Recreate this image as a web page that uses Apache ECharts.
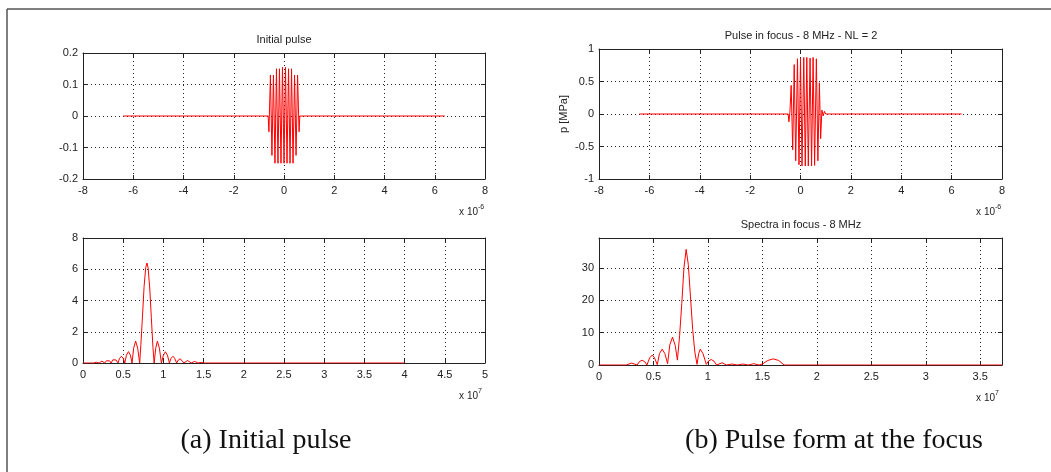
<!DOCTYPE html>
<html>
<head>
<meta charset="utf-8">
<script src="https://cdn.jsdelivr.net/npm/echarts/dist/echarts.min.js"></script>
<style>
  html, body { margin: 0; padding: 0; background: #ffffff; }
  #chart { width: 1051px; height: 472px; }
</style>
</head>
<body>
<div id="chart"></div>
<script>
// ---- Initial pulse (time in microseconds, pressure) ----
const initTime  = [-6.4, -0.63, -0.60, -0.54, -0.48, -0.42, -0.36, -0.30, -0.24, -0.18, -0.12, -0.06, 0.00,
                   0.06, 0.12, 0.18, 0.24, 0.30, 0.36, 0.42, 0.48, 0.54, 0.60, 0.63, 6.4];
const initPress = [0, 0, -0.05, 0.13, -0.125, 0.13, -0.15, 0.15, -0.15, 0.15, -0.15, 0.155, -0.15,
                   0.155, -0.15, 0.15, -0.15, 0.15, -0.15, 0.13, -0.125, 0.13, -0.05, 0, 0];

// ---- Pulse at the focus (time in microseconds, p in MPa) ----
const focusTime  = [-6.4, -0.49, -0.46, -0.42, -0.37, -0.31, -0.25, -0.19, -0.12, -0.06, 0.00, 0.06, 0.13,
                    0.19, 0.25, 0.31, 0.38, 0.44, 0.50, 0.56, 0.63, 0.69, 0.75, 0.80, 0.85, 0.90, 0.95, 1.00, 6.4];
const focusPress = [0, 0, -0.12, 0.03, 0.44, -0.55, 0.76, -0.72, 0.85, -0.78, 0.86, -0.80, 0.87,
                    -0.80, 0.87, -0.80, 0.86, -0.80, 0.87, -0.79, 0.85, -0.72, 0.48, -0.38, 0.06, -0.03, 0.04, 0, 0];

// ---- Spectrum of the initial pulse (frequency in units of 1e7 Hz) ----
const initFreq = [0, 0.13, 0.165, 0.20, 0.235, 0.27, 0.29, 0.31, 0.33, 0.35, 0.37, 0.39, 0.41, 0.435,
                  0.455, 0.478, 0.50, 0.52, 0.54, 0.565, 0.59, 0.61, 0.63, 0.655, 0.68, 0.705,
                  0.72, 0.74, 0.76, 0.78, 0.795, 0.81, 0.83, 0.85, 0.87, 0.885,
                  0.905, 0.925, 0.95, 0.975, 1.0, 1.025, 1.05, 1.075, 1.095, 1.12, 1.14, 1.165,
                  1.185, 1.21, 1.23, 1.255, 1.30, 1.345, 1.39, 1.43, 1.47, 1.51, 4.0];
const initAmp  = [0, 0, 0.05, 0, 0.12, 0, 0.14, 0.2, 0.14, 0, 0.2, 0.28, 0.2, 0,
                  0.3, 0.43, 0.3, 0, 0.5, 0.73, 0.5, 0, 0.95, 1.4, 0.95, 0,
                  1.2, 3.0, 4.9, 6.1, 6.4, 6.1, 4.8, 2.9, 1.0, 0,
                  0.95, 1.4, 0.95, 0, 0.5, 0.72, 0.5, 0, 0.3, 0.43, 0.3, 0,
                  0.19, 0.27, 0.19, 0, 0.16, 0, 0.1, 0, 0.04, 0, 0];

// ---- Spectrum at the focus (frequency in units of 1e7 Hz) ----
const focusFreq = [0, 0.25, 0.30, 0.35, 0.37, 0.395, 0.42, 0.44, 0.465, 0.49, 0.51, 0.535,
                   0.555, 0.58, 0.605, 0.63, 0.65, 0.675, 0.70, 0.72,
                   0.74, 0.76, 0.78, 0.80, 0.82, 0.84, 0.86, 0.88, 0.90,
                   0.915, 0.93, 0.955, 0.985, 1.005, 1.03, 1.055, 1.08, 1.13, 1.17,
                   1.22, 1.27, 1.32, 1.37, 1.42, 1.47, 1.50, 1.55, 1.60, 1.65, 1.70, 3.7];
const focusAmp  = [0, 0, 0.6, 0, 1.0, 1.5, 1.0, 0, 2.2, 3.1, 2.2, 0.1,
                   3.5, 4.9, 3.5, 0.4, 6.2, 8.6, 6.0, 1.5,
                   9, 19, 30, 35.7, 31, 21, 11, 4, 0.2,
                   3.5, 4.9, 3.5, 0.2, 1.2, 1.7, 1.2, 0, 0.7, 0,
                   0.3, 0, 0.3, 0, 0.4, 0, 0.3, 1.4, 1.9, 1.4, 0, 0];

const pairs = (xs, ys) => xs.map((x, i) => [x, ys[i]]);

const INK = '#222222';
const LABEL_FONT = 'Liberation Sans, Arial, sans-serif';

const grids = [
  { left: 83,  top: 53,  width: 402, height: 126 },
  { left: 83,  top: 238, width: 402, height: 125 },
  { left: 599, top: 49,  width: 403, height: 130 },
  { left: 599, top: 238, width: 403, height: 127 }
];

const axisRanges = [
  { x: [-8, 8, 2],    y: [-0.2, 0.2, 0.1] },
  { x: [0, 5, 0.5],   y: [0, 8, 2] },
  { x: [-8, 8, 2],    y: [-1, 1, 0.5] },
  { x: [0, 3.7, 0.5], y: [0, 39.2, 10] }
];

const xAxes = [];
const yAxes = [];
axisRanges.forEach((r, g) => {
  const line = { show: true, onZero: false, lineStyle: { color: INK, width: 1 } };
  const tick = { show: true, inside: true, length: 4, lineStyle: { color: INK, width: 1 } };
  const grid = { show: true, lineStyle: { color: INK, width: 1, type: [1, 3] } };
  const label = { show: true, color: INK, fontSize: 11, fontFamily: LABEL_FONT, margin: 6,
                  showMaxLabel: g !== 3, showMinLabel: true };
  xAxes.push({ type: 'value', gridIndex: g, position: 'bottom', min: r.x[0], max: r.x[1], interval: r.x[2],
               axisLine: line, axisTick: tick, axisLabel: label, splitLine: grid });
  xAxes.push({ type: 'value', gridIndex: g, position: 'top', min: r.x[0], max: r.x[1], interval: r.x[2],
               axisLine: line, axisTick: tick, axisLabel: { show: false }, splitLine: { show: false } });
  yAxes.push({ type: 'value', gridIndex: g, position: 'left', min: r.y[0], max: r.y[1], interval: r.y[2],
               axisLine: line, axisTick: tick, axisLabel: Object.assign({}, label, { margin: 5 }), splitLine: grid });
  yAxes.push({ type: 'value', gridIndex: g, position: 'right', min: r.y[0], max: r.y[1], interval: r.y[2],
               axisLine: line, axisTick: tick, axisLabel: { show: false }, splitLine: { show: false } });
});

const curves = [
  pairs(initTime, initPress),
  pairs(initFreq, initAmp),
  pairs(focusTime, focusPress),
  pairs(focusFreq, focusAmp)
];

const series = curves.map((data, g) => ({
  type: 'line',
  xAxisIndex: 2 * g,
  yAxisIndex: 2 * g,
  data: data,
  symbol: 'none',
  showSymbol: false,
  smooth: false,
  lineStyle: { color: '#ff0000', width: 1 },
  animation: false
}));

function text(str, x, y, size, opts) {
  return Object.assign({
    type: 'text', x: x, y: y, silent: true,
    style: { text: str, fill: INK, font: size + 'px ' + LABEL_FONT, align: 'center', verticalAlign: 'middle' }
  }, opts || {});
}

function exponent(base, power, right, y) {
  return [
    { type: 'text', x: right - 7, y: y, silent: true,
      style: { text: base, fill: INK, font: '10px ' + LABEL_FONT, align: 'right', verticalAlign: 'middle' } },
    { type: 'text', x: right - 7, y: y - 5, silent: true,
      style: { text: power, fill: INK, font: '7px ' + LABEL_FONT, align: 'left', verticalAlign: 'middle' } }
  ];
}

const CAPTION_FONT = '28px "Liberation Serif", serif';

const graphics = [
  // page frame
  { type: 'line', silent: true, shape: { x1: 7, y1: 9, x2: 1051, y2: 9 }, style: { stroke: '#555', lineWidth: 1.5 } },
  { type: 'line', silent: true, shape: { x1: 7, y1: 9, x2: 7, y2: 472 }, style: { stroke: '#555', lineWidth: 1.5 } },
  // panel titles
  text('Initial pulse', 284, 40, 11),
  text('Pulse in focus - 8 MHz - NL = 2', 801, 36, 11),
  text('Spectra in focus - 8 MHz', 801, 225, 11),
  // y-axis name
  text('p [MPa]', 564, 114, 11, { rotation: Math.PI / 2 }),
  // axis multipliers
  ...exponent('x 10', '-6', 485, 212),
  ...exponent('x 10', '7', 485, 396),
  ...exponent('x 10', '-6', 1002, 212),
  ...exponent('x 10', '7', 1002, 398),
  // sub-figure captions
  { type: 'text', x: 266, y: 441, silent: true,
    style: { text: '(a) Initial pulse', fill: '#111', font: CAPTION_FONT, align: 'center', verticalAlign: 'middle' } },
  { type: 'text', x: 834, y: 441, silent: true,
    style: { text: '(b) Pulse form at the focus', fill: '#111', font: CAPTION_FONT, align: 'center', verticalAlign: 'middle' } }
];

const chart = echarts.init(document.getElementById('chart'), null, { renderer: 'canvas' });
chart.setOption({
  animation: false,
  backgroundColor: '#ffffff',
  grid: grids,
  xAxis: xAxes,
  yAxis: yAxes,
  series: series,
  graphic: graphics
});
</script>
</body>
</html>
